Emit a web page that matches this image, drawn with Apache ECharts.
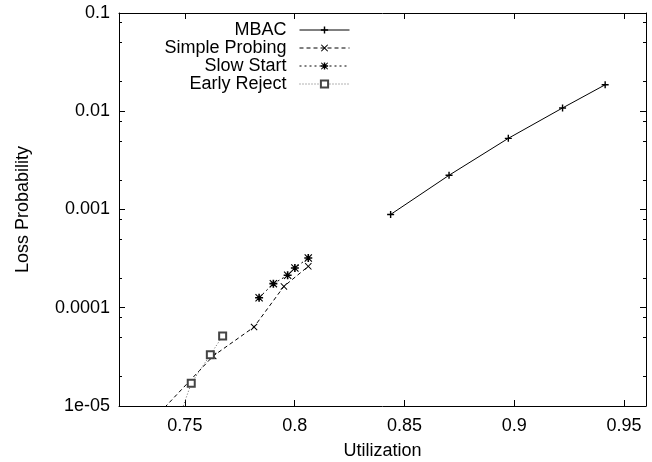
<!DOCTYPE html>
<html>
<head>
<meta charset="utf-8">
<script src="https://cdn.jsdelivr.net/npm/echarts@6/dist/echarts.min.js"></script>
<style>
html,body{margin:0;padding:0;background:#fff;}
#chart{width:652px;height:462px;}
</style>
</head>
<body>
<div id="chart"></div>
<script>
// ---- data ----
const mbacX = [0.8437, 0.8703, 0.8973, 0.9220, 0.9414];
const mbacY = [8.9e-4, 2.23e-3, 5.3e-3, 0.0108, 0.0186];

const probingX = [0.7364, 0.7629, 0.7815, 0.7951, 0.8062];
const probingY = [7.6e-6, 3.23e-5, 6.37e-5, 1.65e-4, 2.64e-4];

const slowX = [0.7838, 0.7903, 0.7968, 0.8001, 0.8062];
const slowY = [1.265e-4, 1.76e-4, 2.14e-4, 2.54e-4, 3.21e-4];

const earlyX = [0.7470, 0.7529, 0.7616, 0.7672];
const earlyY = [7.2e-6, 1.70e-5, 3.33e-5, 5.15e-5];

const seriesNames = ['MBAC', 'Simple Probing', 'Slow Start', 'Early Reject'];

const xTickValues = [0.75, 0.8, 0.85, 0.9, 0.95];
const xTickLabels = ['0.75', '0.8', '0.85', '0.9', '0.95'];
const yTickValues = [1e-5, 1e-4, 1e-3, 1e-2, 1e-1];
const yTickLabels = ['1e-05', '0.0001', '0.001', '0.01', '0.1'];
const yMinorValues = [2e-5, 5e-5, 8e-5, 2e-4, 5e-4, 8e-4, 2e-3, 5e-3, 8e-3, 2e-2, 5e-2, 8e-2];

const xMin = 0.72, xMax = 0.96;
const yMin = 1e-5, yMax = 0.1;

// ---- build ----
function pairs(xs, ys) { return xs.map((x, i) => [x, ys[i]]); }

const FONT = 'Liberation Sans';
const plusPath = 'path://M4,0H6V4H10V6H6V10H4V6H0V4H4Z';
const crossPath = 'path://M0,1L1,0L5,4L9,0L10,1L6,5L10,9L9,10L5,6L1,10L0,9L4,5Z';
const starPath = 'path://M4,0H6V4H10V6H6V10H4V6H0V4H4Z M0,1L1,0L5,4L9,0L10,1L6,5L10,9L9,10L5,6L1,10L0,9L4,5Z';

function xLabelFmt(v) {
  for (let i = 0; i < xTickValues.length; i++) if (Math.abs(v - xTickValues[i]) < 1e-9) return xTickLabels[i];
  return '';
}
function yLabelFmt(v) {
  for (let i = 0; i < yTickValues.length; i++) if (Math.abs(Math.log10(v) - Math.log10(yTickValues[i])) < 1e-6) return yTickLabels[i];
  return '';
}

const axisLine = { show: true, lineStyle: { color: '#000', width: 1 } };
const majorTick = (vals) => ({ show: true, inside: true, length: 6, customValues: vals, lineStyle: { color: '#000', width: 1 } });

const chart = echarts.init(document.getElementById('chart'), null, { renderer: 'canvas' });
chart.setOption({
  animation: false,
  backgroundColor: '#fff',
  textStyle: { fontFamily: FONT },
  grid: { left: 119, right: 6, top: 13, bottom: 56, containLabel: false, outerBoundsMode: 'none' },
  legend: {
    orient: 'vertical',
    align: 'right',
    right: 302,
    top: 21,
    padding: 0,
    itemGap: 0,
    itemWidth: 50,
    itemHeight: 9,
    data: seriesNames,
    lineStyle: { width: 1 },
    textStyle: { fontFamily: FONT, fontSize: 18, color: '#000', padding: [0, 8, 0, 0] }
  },
  xAxis: [
    {
      type: 'value', min: xMin, max: xMax, position: 'bottom',
      name: 'Utilization', nameLocation: 'middle', nameGap: 36,
      nameTextStyle: { fontFamily: FONT, fontSize: 18, color: '#000' },
      axisLine: axisLine,
      axisTick: majorTick(xTickValues),
      axisLabel: { show: true, customValues: xTickValues, formatter: xLabelFmt, fontFamily: FONT, fontSize: 18, color: '#000', margin: 11 },
      splitLine: { show: false }
    },
    {
      type: 'value', min: xMin, max: xMax, position: 'top',
      axisLine: axisLine,
      axisTick: majorTick(xTickValues),
      axisLabel: { show: false },
      splitLine: { show: false }
    }
  ],
  yAxis: [
    {
      type: 'log', logBase: 10, min: yMin, max: yMax, position: 'left',
      name: 'Loss Probability', nameLocation: 'middle', nameGap: 87, nameRotate: 90,
      nameTextStyle: { fontFamily: FONT, fontSize: 18, color: '#000' },
      axisLine: axisLine,
      axisTick: majorTick(yTickValues),
      axisLabel: { show: true, customValues: yTickValues, formatter: yLabelFmt, fontFamily: FONT, fontSize: 18, color: '#000', margin: 9 },
      splitLine: { show: false }
    },
    {
      type: 'log', logBase: 10, min: yMin, max: yMax, position: 'right',
      axisLine: axisLine,
      axisTick: majorTick(yTickValues),
      axisLabel: { show: false },
      splitLine: { show: false }
    },
    {
      type: 'log', logBase: 10, min: yMin, max: yMax, position: 'left',
      axisLine: { show: false },
      axisTick: { show: true, inside: true, length: 3, customValues: yMinorValues, lineStyle: { color: '#000', width: 1 } },
      axisLabel: { show: false },
      splitLine: { show: false }
    },
    {
      type: 'log', logBase: 10, min: yMin, max: yMax, position: 'right',
      axisLine: { show: false },
      axisTick: { show: true, inside: true, length: 3, customValues: yMinorValues, lineStyle: { color: '#000', width: 1 } },
      axisLabel: { show: false },
      splitLine: { show: false }
    }
  ],
  series: [
    {
      name: seriesNames[0], type: 'line', data: pairs(mbacX, mbacY),
      symbol: plusPath, symbolSize: 7, showAllSymbol: true,
      lineStyle: { color: '#000', width: 1, type: 'solid' },
      itemStyle: { color: '#000' }, clip: true
    },
    {
      name: seriesNames[1], type: 'line', data: pairs(probingX, probingY),
      symbol: crossPath, symbolSize: 7, showAllSymbol: true,
      lineStyle: { color: '#000', width: 1, type: [4, 3] },
      itemStyle: { color: '#000' }, clip: true
    },
    {
      name: seriesNames[2], type: 'line', data: pairs(slowX, slowY),
      symbol: starPath, symbolSize: 8, showAllSymbol: true,
      lineStyle: { color: '#000', width: 1, type: [2, 3] },
      itemStyle: { color: '#000' }, clip: true
    },
    {
      name: seriesNames[3], type: 'line', data: pairs(earlyX, earlyY),
      symbol: 'emptyRect', symbolSize: 7, showAllSymbol: true,
      lineStyle: { color: '#666', width: 1, type: [1, 2] },
      itemStyle: { color: '#444', borderWidth: 1 }, clip: true
    }
  ]
});
</script>
</body>
</html>
